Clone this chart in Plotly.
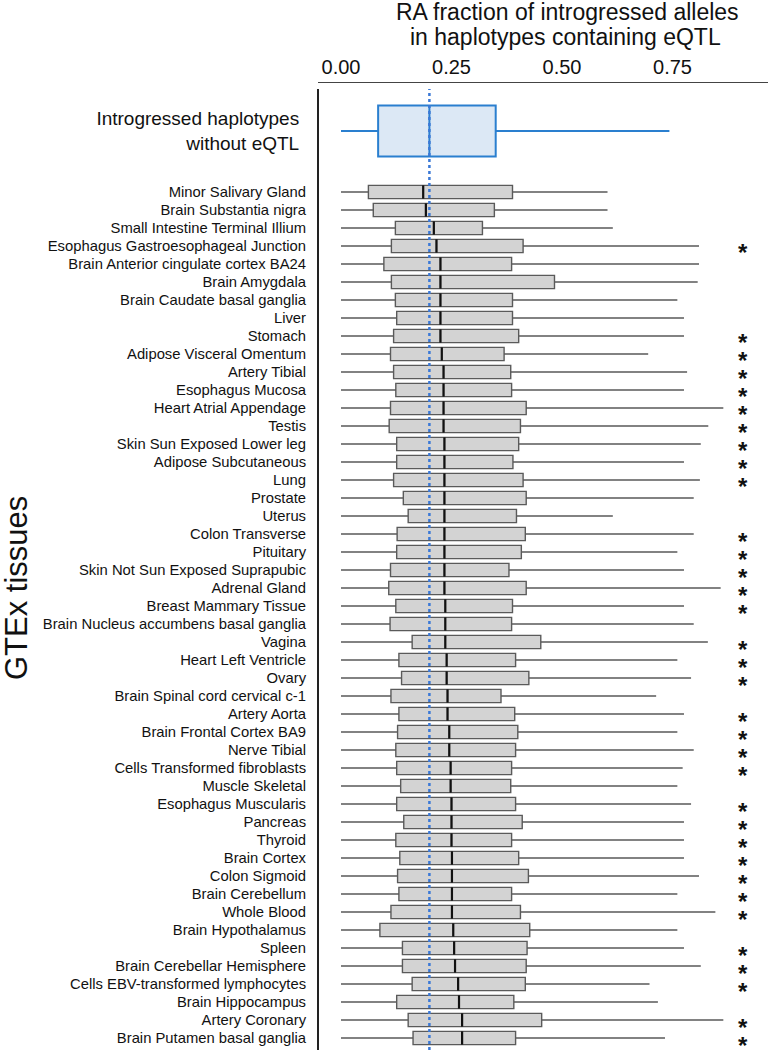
import plotly.graph_objects as go

# ---------------- data ----------------
tissues = [
    "Minor Salivary Gland", "Brain Substantia nigra", "Small Intestine Terminal Illium",
    "Esophagus Gastroesophageal Junction", "Brain Anterior cingulate cortex BA24",
    "Brain Amygdala", "Brain Caudate basal ganglia", "Liver", "Stomach",
    "Adipose Visceral Omentum", "Artery Tibial", "Esophagus Mucosa",
    "Heart Atrial Appendage", "Testis", "Skin Sun Exposed Lower leg",
    "Adipose Subcutaneous", "Lung", "Prostate", "Uterus", "Colon Transverse",
    "Pituitary", "Skin Not Sun Exposed Suprapubic", "Adrenal Gland",
    "Breast Mammary Tissue", "Brain Nucleus accumbens basal ganglia", "Vagina",
    "Heart Left Ventricle", "Ovary", "Brain Spinal cord cervical c-1", "Artery Aorta",
    "Brain Frontal Cortex BA9", "Nerve Tibial", "Cells Transformed fibroblasts",
    "Muscle Skeletal", "Esophagus Muscularis", "Pancreas", "Thyroid", "Brain Cortex",
    "Colon Sigmoid", "Brain Cerebellum", "Whole Blood", "Brain Hypothalamus", "Spleen",
    "Brain Cerebellar Hemisphere", "Cells EBV-transformed lymphocytes",
    "Brain Hippocampus", "Artery Coronary", "Brain Putamen basal ganglia",
]
q1 = [0.062, 0.073, 0.123, 0.114, 0.097, 0.114, 0.123, 0.126, 0.119, 0.112,
      0.119, 0.124, 0.112, 0.109, 0.126, 0.126, 0.119, 0.141, 0.152, 0.127,
      0.126, 0.112, 0.108, 0.124, 0.111, 0.161, 0.131, 0.137, 0.113, 0.131,
      0.128, 0.124, 0.126, 0.135, 0.126, 0.142, 0.124, 0.133, 0.128, 0.131,
      0.113, 0.088, 0.139, 0.139, 0.161, 0.126, 0.152, 0.163]
median = [0.186, 0.192, 0.210, 0.216, 0.225, 0.225, 0.225, 0.225, 0.225, 0.228,
          0.232, 0.232, 0.232, 0.232, 0.234, 0.234, 0.234, 0.234, 0.234, 0.234,
          0.234, 0.234, 0.234, 0.236, 0.236, 0.236, 0.239, 0.239, 0.241, 0.241,
          0.245, 0.245, 0.248, 0.248, 0.250, 0.250, 0.250, 0.251, 0.251, 0.251,
          0.251, 0.254, 0.256, 0.258, 0.265, 0.267, 0.274, 0.274]
q3 = [0.388, 0.347, 0.320, 0.412, 0.386, 0.483, 0.388, 0.388, 0.402, 0.369,
      0.384, 0.386, 0.419, 0.406, 0.402, 0.389, 0.412, 0.419, 0.397, 0.417,
      0.408, 0.380, 0.419, 0.388, 0.386, 0.452, 0.395, 0.425, 0.362, 0.393,
      0.400, 0.395, 0.386, 0.384, 0.395, 0.410, 0.386, 0.402, 0.424, 0.386,
      0.406, 0.427, 0.421, 0.419, 0.417, 0.391, 0.454, 0.395]
lower = [0.0, 0.0, 0.0, 0.0, 0.0, 0.0, 0.0, 0.0, 0.0, 0.0, 0.0, 0.0,
         0.0, 0.0, 0.0, 0.0, 0.0, 0.0, 0.0, 0.0, 0.0, 0.0, 0.0, 0.0,
         0.0, 0.0, 0.0, 0.0, 0.0, 0.0, 0.0, 0.0, 0.0, 0.0, 0.0, 0.0,
         0.0, 0.0, 0.0, 0.0, 0.0, 0.0, 0.0, 0.0, 0.0, 0.0, 0.0, 0.0]
upper = [0.603, 0.603, 0.615, 0.810, 0.810, 0.807, 0.761, 0.776, 0.776, 0.695,
         0.783, 0.776, 0.865, 0.831, 0.814, 0.776, 0.812, 0.798, 0.615, 0.798,
         0.761, 0.776, 0.859, 0.776, 0.798, 0.830, 0.761, 0.792, 0.713, 0.776,
         0.761, 0.798, 0.773, 0.761, 0.792, 0.776, 0.776, 0.776, 0.810, 0.761,
         0.847, 0.761, 0.776, 0.814, 0.698, 0.717, 0.865, 0.733]
significant = [0, 0, 0, 1, 0, 0, 0, 0, 1, 1, 1, 1, 1, 1, 1, 1, 1, 0, 0, 1, 1, 1, 1, 1,
               0, 1, 1, 1, 0, 1, 1, 1, 1, 0, 1, 1, 1, 1, 1, 1, 1, 0, 1, 1, 1, 0, 1, 1]

ref_label = ["Introgressed haplotypes<br>without eQTL"]
ref_lower = [0.0]
ref_q1 = [0.084]
ref_median = [0.200]
ref_q3 = [0.350]
ref_upper = [0.743]

x_ticks = [0.0, 0.25, 0.5, 0.75]
x_ticktext = ["0.00", "0.25", "0.50", "0.75"]
x_title_lines = ["RA fraction of introgressed alleles", "in haplotypes containing eQTL"]
y_title = "GTEx tissues"

# ---------------- layout geometry ----------------
W, H = 768, 1050
ML, MT = 318, 82
PH = H - MT


def py(px):
    return (H - px) / PH


def pxx(px):
    return (px - ML) / (W - ML)


FONT = "Liberation Sans, Arial, sans-serif"
STAR_X = 0.909

fig = go.Figure()

fig.add_trace(go.Box(
    y=ref_label, q1=ref_q1, median=ref_median, q3=ref_q3,
    lowerfence=ref_lower, upperfence=ref_upper, orientation="h",
    xaxis="x", yaxis="y2", width=1.28, whiskerwidth=0,
    fillcolor="#dce8f5", line=dict(color="#2a7fcf", width=2),
    boxpoints=False, hoverinfo="skip", showlegend=False,
))

fig.add_trace(go.Box(
    y=tissues, q1=q1, median=median, q3=q3,
    lowerfence=lower, upperfence=upper, orientation="h",
    xaxis="x", yaxis="y", width=0.74, whiskerwidth=0,
    fillcolor="#d3d3d3", line=dict(color="#5a5a5a", width=1.4),
    boxpoints=False, hoverinfo="skip", showlegend=False,
))

fig.add_trace(go.Scatter(
    x=median, y=tissues, mode="markers", xaxis="x", yaxis="y",
    marker=dict(symbol="line-ns", size=9.5, line=dict(color="#111111", width=2.2)),
    hoverinfo="skip", showlegend=False,
))

annotations = [
    dict(text=x_title_lines[0], xref="paper", yref="paper",
         x=pxx(567), y=py(12), xanchor="center", yanchor="middle",
         showarrow=False, font=dict(size=23, color="#111111")),
    dict(text=x_title_lines[1], xref="paper", yref="paper",
         x=pxx(565), y=py(37), xanchor="center", yanchor="middle",
         showarrow=False, font=dict(size=23, color="#111111")),
    dict(text=y_title, xref="paper", yref="paper", textangle=-90,
         x=pxx(16), y=py(588), xanchor="center", yanchor="middle",
         showarrow=False, font=dict(size=31, color="#111111")),
]
for t, s in zip(tissues, significant):
    if s:
        annotations.append(dict(
            text="<b>*</b>", x=STAR_X, y=t, xref="x", yref="y",
            xanchor="center", yanchor="middle", yshift=-7, showarrow=False,
            font=dict(size=24, color="#111111"),
        ))

fig.update_layout(
    width=W, height=H,
    margin=dict(l=ML, r=0, t=MT, b=0, pad=0),
    paper_bgcolor="white", plot_bgcolor="white",
    font=dict(family=FONT, color="#111111"),
    xaxis=dict(
        range=[(ML - 341) / 442, (W - 341) / 442], side="top",
        anchor="free", position=1.0, automargin=False,
        tickvals=x_ticks, ticktext=x_ticktext, tickfont=dict(size=20, color="#111111"),
        showline=True, linecolor="#444444", linewidth=1.2,
        showgrid=False, zeroline=False, ticks="", ticklen=0,
    ),
    yaxis=dict(
        domain=[py(1047), py(183)], type="category", automargin=False,
        categoryorder="array", categoryarray=tissues,
        range=[len(tissues) - 0.5, -0.5],
        tickfont=dict(size=14.8, color="#111111"),
        ticks="outside", ticklen=8, tickcolor="rgba(0,0,0,0)",
        showgrid=False, zeroline=False, showline=False,
    ),
    yaxis2=dict(
        domain=[py(171), py(91)], type="category", range=[-1, 1],
        anchor="x", automargin=False,
        tickfont=dict(size=19, color="#111111"),
        ticks="outside", ticklen=14, tickcolor="rgba(0,0,0,0)",
        showgrid=False, zeroline=False, showline=False,
    ),
    shapes=[
        dict(type="line", xref="paper", yref="paper", x0=0, x1=0,
             y0=0, y1=py(89), line=dict(color="#222222", width=2)),
        dict(type="line", xref="x", yref="paper", x0=ref_median[0], x1=ref_median[0],
             y0=0, y1=py(89), line=dict(color="#3a78d6", width=2.5, dash="dot")),
    ],
    annotations=annotations,
)

fig.write_html("out.html", config={"displayModeBar": False},
               post_script="document.body.style.margin='0';")
